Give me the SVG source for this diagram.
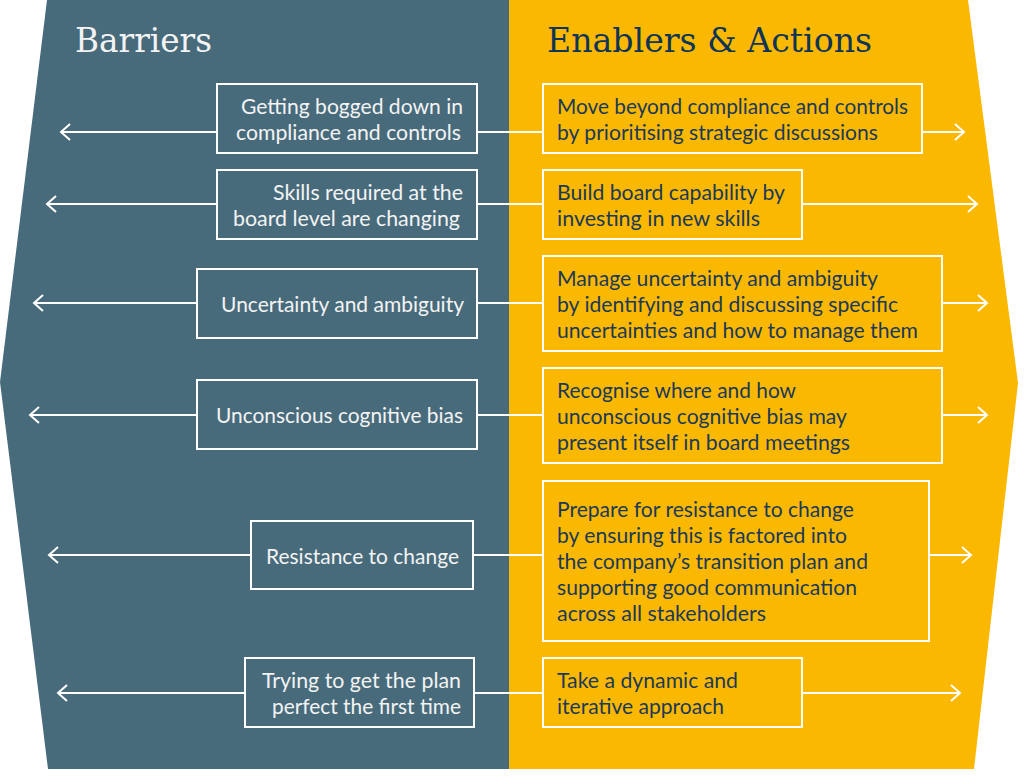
<svg xmlns="http://www.w3.org/2000/svg" width="1024" height="778" viewBox="0 0 1024 778">
<defs>
<style>
.bg{fill:#ffffff}
.blue{fill:#486b7c}
.yellow{fill:#fbb800}
.box{fill:none;stroke:#ffffff;stroke-width:2}
.conn{stroke:#ffffff;stroke-width:2;fill:none}
.title{font-family:"DejaVu Serif","Liberation Serif",serif;font-size:34px}
.tl{fill:#f3f3f3}
.tr{fill:#0e3556}
.lt{font-family:Lato,"Open Sans","Liberation Sans",sans-serif;font-size:20.5px;fill:#f3f3f3}
.rt{font-family:Lato,"Open Sans","Liberation Sans",sans-serif;font-size:20.5px;fill:#1b3a58}
</style>
<marker id="chev" markerUnits="userSpaceOnUse" markerWidth="24" markerHeight="24" viewBox="-12 -12 24 24" refX="0" refY="0" orient="auto">
<path d="M-9,-8 L0,0 L-9,8" fill="none" stroke="#ffffff" stroke-width="2"/>
</marker>
</defs>
<rect class="bg" x="0" y="0" width="1024" height="778"/>
<g id="panels">
<polygon class="blue" points="47,0 509,0 509,769 48,769 0,382"/>
<polygon class="yellow" points="509,0 968,0 1018,383 974,769 509,769"/>
</g>
<g id="titles">
<text class="title tl" x="75" y="52" textLength="137" lengthAdjust="spacingAndGlyphs">Barriers</text>
<text class="title tr" x="547" y="52" textLength="325" lengthAdjust="spacingAndGlyphs">Enablers &amp; Actions</text>
</g>
<g id="connectors">
<line class="conn" x1="217" y1="132" x2="61" y2="132" marker-end="url(#chev)"/>
<line class="conn" x1="477" y1="132" x2="543" y2="132"/>
<line class="conn" x1="922" y1="132" x2="964" y2="132" marker-end="url(#chev)"/>
<line class="conn" x1="217" y1="204" x2="47" y2="204" marker-end="url(#chev)"/>
<line class="conn" x1="477" y1="204" x2="543" y2="204"/>
<line class="conn" x1="802" y1="204" x2="977" y2="204" marker-end="url(#chev)"/>
<line class="conn" x1="197" y1="303" x2="34" y2="303" marker-end="url(#chev)"/>
<line class="conn" x1="477" y1="303" x2="543" y2="303"/>
<line class="conn" x1="942" y1="303" x2="987" y2="303" marker-end="url(#chev)"/>
<line class="conn" x1="197" y1="415" x2="30" y2="415" marker-end="url(#chev)"/>
<line class="conn" x1="477" y1="415" x2="543" y2="415"/>
<line class="conn" x1="942" y1="415" x2="987" y2="415" marker-end="url(#chev)"/>
<line class="conn" x1="251" y1="555" x2="49" y2="555" marker-end="url(#chev)"/>
<line class="conn" x1="473" y1="555" x2="543" y2="555"/>
<line class="conn" x1="929" y1="555" x2="971" y2="555" marker-end="url(#chev)"/>
<line class="conn" x1="245" y1="693" x2="58" y2="693" marker-end="url(#chev)"/>
<line class="conn" x1="474" y1="693" x2="543" y2="693"/>
<line class="conn" x1="802" y1="693" x2="960" y2="693" marker-end="url(#chev)"/>
</g>
<g id="barrier1">
<rect class="box" x="217" y="84" width="260" height="69"/>
<text class="lt" x="241" y="114" textLength="222" lengthAdjust="spacingAndGlyphs">Getting bogged down in</text>
<text class="lt" x="236" y="140" textLength="225" lengthAdjust="spacingAndGlyphs">compliance and controls</text>
</g>
<g id="barrier2">
<rect class="box" x="217" y="170" width="260" height="69"/>
<text class="lt" x="273" y="200" textLength="190" lengthAdjust="spacingAndGlyphs">Skills required at the</text>
<text class="lt" x="233" y="226" textLength="227" lengthAdjust="spacingAndGlyphs">board level are changing</text>
</g>
<g id="barrier3">
<rect class="box" x="197" y="269" width="280" height="69"/>
<text class="lt" x="221" y="312" textLength="243" lengthAdjust="spacingAndGlyphs">Uncertainty and ambiguity</text>
</g>
<g id="barrier4">
<rect class="box" x="197" y="380" width="280" height="69"/>
<text class="lt" x="216" y="423" textLength="247" lengthAdjust="spacingAndGlyphs">Unconscious cognitive bias</text>
</g>
<g id="barrier5">
<rect class="box" x="251" y="521" width="222" height="68"/>
<text class="lt" x="266" y="564" textLength="193" lengthAdjust="spacingAndGlyphs">Resistance to change</text>
</g>
<g id="barrier6">
<rect class="box" x="245" y="658" width="229" height="69"/>
<text class="lt" x="262" y="688" textLength="199" lengthAdjust="spacingAndGlyphs">Trying to get the plan</text>
<text class="lt" x="272" y="714" textLength="189" lengthAdjust="spacingAndGlyphs">perfect the first time</text>
</g>
<g id="enabler1">
<rect class="box" x="543" y="84" width="379" height="69"/>
<text class="rt" x="557" y="114" textLength="351" lengthAdjust="spacingAndGlyphs">Move beyond compliance and controls</text>
<text class="rt" x="557" y="140" textLength="321" lengthAdjust="spacingAndGlyphs">by prioritising strategic discussions</text>
</g>
<g id="enabler2">
<rect class="box" x="543" y="170" width="259" height="69"/>
<text class="rt" x="557" y="200" textLength="228" lengthAdjust="spacingAndGlyphs">Build board capability by</text>
<text class="rt" x="557" y="226" textLength="203" lengthAdjust="spacingAndGlyphs">investing in new skills</text>
</g>
<g id="enabler3">
<rect class="box" x="543" y="256" width="399" height="95"/>
<text class="rt" x="557" y="286" textLength="321" lengthAdjust="spacingAndGlyphs">Manage uncertainty and ambiguity</text>
<text class="rt" x="557" y="312" textLength="341" lengthAdjust="spacingAndGlyphs">by identifying and discussing specific</text>
<text class="rt" x="557" y="338" textLength="361" lengthAdjust="spacingAndGlyphs">uncertainties and how to manage them</text>
</g>
<g id="enabler4">
<rect class="box" x="543" y="368" width="399" height="95"/>
<text class="rt" x="557" y="398" textLength="239" lengthAdjust="spacingAndGlyphs">Recognise where and how</text>
<text class="rt" x="557" y="424" textLength="290" lengthAdjust="spacingAndGlyphs">unconscious cognitive bias may</text>
<text class="rt" x="557" y="450" textLength="293" lengthAdjust="spacingAndGlyphs">present itself in board meetings</text>
</g>
<g id="enabler5">
<rect class="box" x="543" y="481" width="386" height="160"/>
<text class="rt" x="557" y="517" textLength="297" lengthAdjust="spacingAndGlyphs">Prepare for resistance to change</text>
<text class="rt" x="557" y="543" textLength="290" lengthAdjust="spacingAndGlyphs">by ensuring this is factored into</text>
<text class="rt" x="557" y="569" textLength="311" lengthAdjust="spacingAndGlyphs">the company’s transition plan and</text>
<text class="rt" x="557" y="595" textLength="300" lengthAdjust="spacingAndGlyphs">supporting good communication</text>
<text class="rt" x="557" y="621" textLength="209" lengthAdjust="spacingAndGlyphs">across all stakeholders</text>
</g>
<g id="enabler6">
<rect class="box" x="543" y="658" width="259" height="69"/>
<text class="rt" x="557" y="688" textLength="181" lengthAdjust="spacingAndGlyphs">Take a dynamic and</text>
<text class="rt" x="557" y="714" textLength="167" lengthAdjust="spacingAndGlyphs">iterative approach</text>
</g>
</svg>
